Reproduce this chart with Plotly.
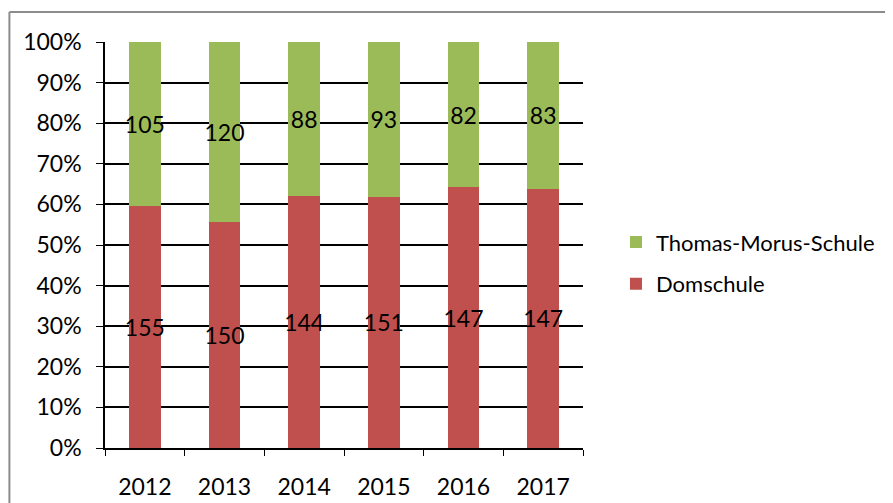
import plotly.graph_objects as go

years = ["2012", "2013", "2014", "2015", "2016", "2017"]
domschule = [155, 150, 144, 151, 147, 147]
thomas_morus = [105, 120, 88, 93, 82, 83]

colors = {'dom': '#C0504D', 'tms': '#9BBB59'}
font_name = "Lato, 'Open Sans', sans-serif"

fig = go.Figure()

fig.add_trace(go.Bar(
    x=years, y=domschule, name='Domschule', legendgroup='dom', legendrank=2,
    marker=dict(color=colors['dom'], line=dict(width=0)),
    text=domschule, textposition='inside', insidetextanchor='middle',
    textangle=0, constraintext='none',
    textfont=dict(color='black', size=23, family=font_name)
))
fig.add_trace(go.Bar(
    x=years, y=thomas_morus, name='Thomas-Morus-Schule', legendgroup='tms', legendrank=1,
    marker=dict(color=colors['tms'], line=dict(width=0)),
    text=thomas_morus, textposition='inside', insidetextanchor='middle',
    textangle=0, constraintext='none',
    textfont=dict(color='black', size=23, family=font_name)
))

# outer frame of the chart: only left and top edges are inside the picture
frame = dict(color='#8c8c8c', width=2)
fig.add_shape(type='line', xref='paper', yref='paper',
              x0=-0.2, x1=-0.2, y0=-0.3, y1=1.074, line=frame)
fig.add_shape(type='line', xref='paper', yref='paper',
              x0=-0.2, x1=2.0, y0=1.074, y1=1.074, line=frame)

# page body adds 8px offset, so size and margins are shifted by 8
fig.update_layout(
    width=885, height=495,
    barmode='stack', barnorm='percent', bargap=0.6,
    paper_bgcolor='white', plot_bgcolor='white',
    margin=dict(l=97, r=310, t=34, b=55, autoexpand=False),
    font=dict(family=font_name, size=22, color='black'),
    showlegend=True,
    legend=dict(traceorder='grouped', x=1.069, y=0.455, xanchor='left', yanchor='middle',
                font=dict(size=22), itemwidth=30, tracegroupgap=10),
    xaxis=dict(showline=True, linecolor='black', linewidth=1.5,
               ticks='outside', tickson='boundaries', ticklen=6, tickcolor='black',
               tickfont=dict(size=23), showgrid=False, ticklabelstandoff=18),
    yaxis=dict(range=[0, 100], dtick=10, ticksuffix='%',
               showline=True, linecolor='black', linewidth=1.5,
               ticks='outside', ticklen=7, tickcolor='black',
               showgrid=True, gridcolor='black', gridwidth=1.5,
               tickfont=dict(size=23), zeroline=False, ticklabelstandoff=10),
)

fig.write_html("out.html")
